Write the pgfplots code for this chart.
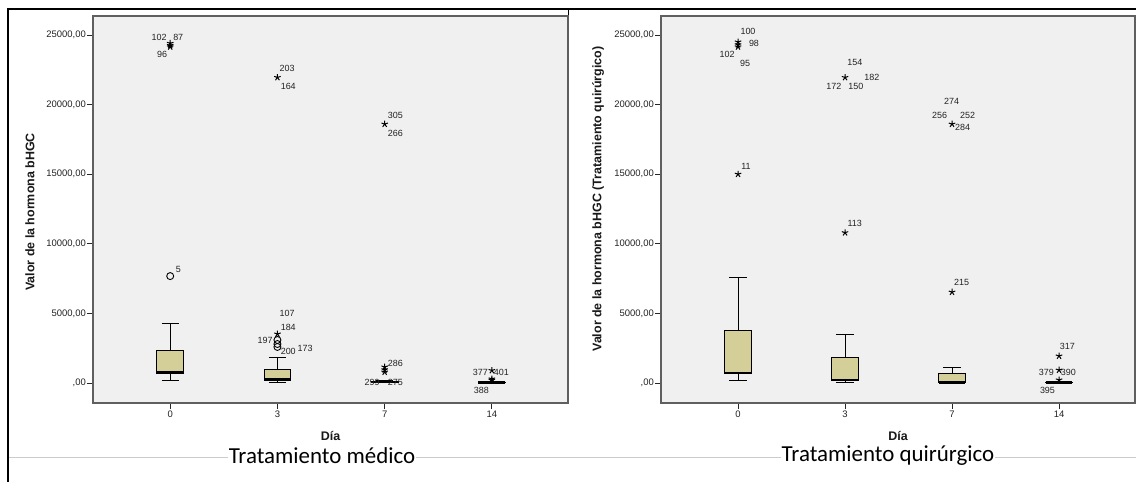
\documentclass[border=0pt]{standalone}
\usepackage{pgfplots}
\pgfplotsset{compat=1.18}
\usepackage{fontspec}
\setmainfont{Liberation Sans}
\newfontfamily\calibri{Carlito}
\definecolor{bgGray}{RGB}{240,240,240}
\definecolor{boxfill}{RGB}{212,206,152}
\definecolor{axGray}{RGB}{95,95,95}
\definecolor{lblGray}{RGB}{35,35,35}
\tikzset{lbl/.style={font=\fontsize{9}{10}\selectfont, text=lblGray, inner sep=0pt},
  ttl/.style={font=\bfseries\fontsize{12.5}{14}\selectfont, text=black!90}}
\begin{document}
\begin{tikzpicture}
\useasboundingbox (0bp,0bp) rectangle (1136bp,482bp);
\fill[white] (0bp,0bp) rectangle (1136bp,482bp);
\draw[lightgray!80, line width=0.8bp] (8bp,25bp) -- (1136bp,25bp);
\draw[black, line width=1.8bp] (8bp,0bp) -- (8bp,473bp) -- (1136bp,473bp);
\draw[black, line width=1.6bp] (568.5bp,473bp) -- (568.5bp,79bp);
\pgfplotsset{
  spss/.style={
    scale only axis, width=475bp, height=387bp,
    xmin=-0.72, xmax=3.71, ymin=-1437, ymax=26365,
    axis background/.style={fill=bgGray},
    axis line style={draw=axGray, line width=1.1bp},
    xtick={0,1,2,3}, xticklabels={0,3,7,14},
    ytick={0,5000,10000,15000,20000,25000},
    yticklabels={{,00},{5000,00},{10000,00},{15000,00},{20000,00},{25000,00}},
    scaled y ticks=false, scaled x ticks=false,
    tick align=outside, major tick length=6bp,
    xtick pos=bottom, ytick pos=left,
    tick style={draw=black!85, line width=0.9bp},
    ticklabel style={font=\fontsize{9.5}{11}\selectfont, text=lblGray},
    yticklabel style={inner sep=1bp},
    xticklabel style={inner sep=2bp},
    clip=false,
  },
  wh/.style={draw=black, line width=0.9bp, mark=none},
  bx/.style={draw=black, fill=boxfill, line width=0.9bp, mark=none},
  md/.style={draw=black, line width=2.2bp, mark=none},
  st/.style={only marks, mark=star, mark size=3.4bp, black, mark options={line width=1bp}},
  ci/.style={only marks, mark=o, mark size=3.5bp, black, mark options={line width=0.9bp}},
}
% ---------------- Left: Tratamiento médico ----------------
\begin{axis}[spss, at={(93bp,79bp)}, anchor=south west]
% day 0: 180 / 650 / 760 / 2370 / 4310
\addplot[wh] coordinates {(0,180) (0,650)};
\addplot[wh] coordinates {(0,2370) (0,4310)};
\addplot[wh] coordinates {(-0.08,180) (0.08,180)};
\addplot[wh] coordinates {(-0.08,4310) (0.08,4310)};
\addplot[bx] coordinates {(-0.125,650) (0.125,650) (0.125,2370) (-0.125,2370)} -- cycle;
\addplot[md] coordinates {(-0.125,760) (0.125,760)};
% day 3: 60 / 170 / 250 / 940 / 1870
\addplot[wh] coordinates {(1,60) (1,170)};
\addplot[wh] coordinates {(1,940) (1,1870)};
\addplot[wh] coordinates {(0.92,60) (1.08,60)};
\addplot[wh] coordinates {(0.92,1870) (1.08,1870)};
\addplot[bx] coordinates {(0.875,170) (1.125,170) (1.125,940) (0.875,940)} -- cycle;
\addplot[md] coordinates {(0.875,250) (1.125,250)};
% day 7: 0 / 20 / 60 / 110 / 200
\addplot[wh] coordinates {(2,0) (2,200)};
\addplot[wh] coordinates {(1.92,200) (2.08,200)};
\addplot[bx] coordinates {(1.875,20) (2.125,20) (2.125,110) (1.875,110)} -- cycle;
\addplot[md] coordinates {(1.875,60) (2.125,60)};
% day 14: 0 / 5 / 30 / 60 / 120
\addplot[wh] coordinates {(3,0) (3,120)};
\addplot[bx] coordinates {(2.875,5) (3.125,5) (3.125,60) (2.875,60)} -- cycle;
\addplot[md] coordinates {(2.875,30) (3.125,30)};
% outliers
\addplot[ci] coordinates {(0,7680) (1,3090) (1,2590) (1,2800)};
\addplot[st] coordinates {(0,24400) (0,24250) (0,24150) (1,21950) (1,3520) (2,18600) (2,1150) (2,950) (2,790) (3,900) (3,290) (3,200)};
\node[lbl] at (axis cs:-0.103,24857) {102};
\node[lbl] at (axis cs:0.075,24857) {87};
\node[lbl] at (axis cs:-0.075,23635) {96};
\node[lbl] at (axis cs:1.091,22630) {203};
\node[lbl] at (axis cs:1.101,21336) {164};
\node[lbl] at (axis cs:2.099,19253) {305};
\node[lbl] at (axis cs:2.099,17960) {266};
\node[lbl] at (axis cs:0.075,8190) {5};
\node[lbl] at (axis cs:1.091,5029) {107};
\node[lbl] at (axis cs:1.101,4023) {184};
\node[lbl] at (axis cs:0.886,3089) {197};
\node[lbl] at (axis cs:1.101,2299) {200};
\node[lbl] at (axis cs:1.259,2514) {173};
\node[lbl] at (axis cs:2.099,1437) {286};
\node[lbl] at (axis cs:1.884,72) {299};
\node[lbl] at (axis cs:2.099,72) {275};
\node[lbl] at (axis cs:2.892,790) {377};
\node[lbl] at (axis cs:3.088,790) {401};
\node[lbl] at (axis cs:2.901,-503) {388};
\end{axis}
% ---------------- Right: Tratamiento quirúrgico ----------------
\begin{axis}[spss, at={(661bp,79bp)}, anchor=south west, width=474bp]
% day 0: 150 / 650 / 720 / 3800 / 7600
\addplot[wh] coordinates {(0,150) (0,650)};
\addplot[wh] coordinates {(0,3800) (0,7600)};
\addplot[wh] coordinates {(-0.08,150) (0.08,150)};
\addplot[wh] coordinates {(-0.08,7600) (0.08,7600)};
\addplot[bx] coordinates {(-0.125,650) (0.125,650) (0.125,3800) (-0.125,3800)} -- cycle;
\addplot[md] coordinates {(-0.125,720) (0.125,720)};
% day 3: 70 / 150 / 230 / 1800 / 3520
\addplot[wh] coordinates {(1,70) (1,150)};
\addplot[wh] coordinates {(1,1800) (1,3520)};
\addplot[wh] coordinates {(0.92,70) (1.08,70)};
\addplot[wh] coordinates {(0.92,3520) (1.08,3520)};
\addplot[bx] coordinates {(0.875,150) (1.125,150) (1.125,1800) (0.875,1800)} -- cycle;
\addplot[md] coordinates {(0.875,230) (1.125,230)};
% day 7: 0 / 10 / 60 / 720 / 1150
\addplot[wh] coordinates {(2,720) (2,1150)};
\addplot[wh] coordinates {(1.92,1150) (2.08,1150)};
\addplot[bx] coordinates {(1.875,10) (2.125,10) (2.125,720) (1.875,720)} -- cycle;
\addplot[md] coordinates {(1.875,40) (2.125,40)};
% day 14: 0 / 5 / 30 / 60 / 100
\addplot[wh] coordinates {(3,0) (3,100)};
\addplot[bx] coordinates {(2.875,5) (3.125,5) (3.125,60) (2.875,60)} -- cycle;
\addplot[md] coordinates {(2.875,30) (3.125,30)};
% outliers
\addplot[st] coordinates {(0,24500) (0,24300) (0,24150) (0,15000) (1,21950) (1,10800) (2,18600) (2,6530) (3,1940) (3,930) (3,220)};
\node[lbl] at (axis cs:0.093,25288) {100};
\node[lbl] at (axis cs:0.149,24426) {98};
\node[lbl] at (axis cs:-0.103,23635) {102};
\node[lbl] at (axis cs:0.065,22989) {95};
\node[lbl] at (axis cs:0.075,15589) {11};
\node[lbl] at (axis cs:1.091,23061) {154};
\node[lbl] at (axis cs:0.896,21336) {172};
\node[lbl] at (axis cs:1.101,21336) {150};
\node[lbl] at (axis cs:1.250,21983) {182};
\node[lbl] at (axis cs:1.091,11494) {113};
\node[lbl] at (axis cs:1.996,20259) {274};
\node[lbl] at (axis cs:1.884,19253) {256};
\node[lbl] at (axis cs:2.146,19253) {252};
\node[lbl] at (axis cs:2.099,18391) {284};
\node[lbl] at (axis cs:2.090,7256) {215};
\node[lbl] at (axis cs:3.078,2658) {317};
\node[lbl] at (axis cs:2.882,790) {379};
\node[lbl] at (axis cs:3.088,790) {390};
\node[lbl] at (axis cs:2.892,-503) {395};
\end{axis}
\node[ttl, rotate=90] at (30bp,270bp) {Valor de la hormona bHGC};
\node[ttl, rotate=90] at (598bp,283bp) {Valor de la hormona bHGC (Tratamiento quirúrgico)};
\node[ttl] at (330.5bp,46bp) {Día};
\node[ttl] at (898bp,46bp) {Día};
\node[font=\calibri\fontsize{23}{26}\selectfont, fill=white, inner sep=1bp] at (322bp,26bp) {Tratamiento médico};
\node[font=\calibri\fontsize{23}{26}\selectfont, fill=white, inner sep=1bp] at (888bp,26bp) {Tratamiento quirúrgico};
\end{tikzpicture}
\end{document}
